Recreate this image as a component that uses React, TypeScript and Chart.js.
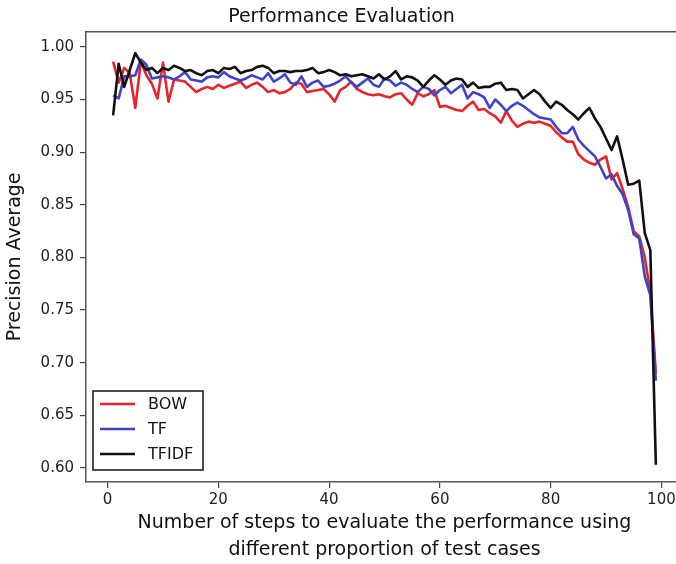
import React, { useEffect, useRef } from 'react';
import { Chart, registerables } from 'chart.js';

Chart.register(...registerables);

const steps = [
  1, 2, 3, 4, 5, 6, 7, 8, 9, 10, 11, 12, 13, 14, 15, 16, 17, 18, 19, 20,
  21, 22, 23, 24, 25, 26, 27, 28, 29, 30, 31, 32, 33, 34, 35, 36, 37, 38, 39, 40,
  41, 42, 43, 44, 45, 46, 47, 48, 49, 50, 51, 52, 53, 54, 55, 56, 57, 58, 59, 60,
  61, 62, 63, 64, 65, 66, 67, 68, 69, 70, 71, 72, 73, 74, 75, 76, 77, 78, 79, 80,
  81, 82, 83, 84, 85, 86, 87, 88, 89, 90, 91, 92, 93, 94, 95, 96, 97, 98, 99,
];

const bow = [
  0.986, 0.966, 0.980, 0.975, 0.942, 0.986, 0.973, 0.965, 0.951, 0.985,
  0.948, 0.969, 0.968, 0.967, 0.962, 0.957, 0.960, 0.962, 0.960, 0.964,
  0.961, 0.963, 0.965, 0.967, 0.961, 0.964, 0.966, 0.962, 0.957, 0.959,
  0.956, 0.957, 0.960, 0.966, 0.965, 0.957, 0.958, 0.959, 0.960, 0.955,
  0.948, 0.959, 0.962, 0.967, 0.960, 0.957, 0.955, 0.954, 0.955, 0.953,
  0.952, 0.955, 0.956, 0.950, 0.945, 0.956, 0.953, 0.955, 0.959, 0.943,
  0.944, 0.942, 0.940, 0.939, 0.944, 0.948, 0.940, 0.941, 0.937, 0.934,
  0.928, 0.939, 0.930, 0.924, 0.927, 0.929, 0.928, 0.929, 0.927, 0.925,
  0.919, 0.914, 0.910, 0.910, 0.898, 0.893, 0.890, 0.888, 0.893, 0.896,
  0.874, 0.880, 0.865, 0.848, 0.825, 0.820, 0.800, 0.767, 0.690,
];

const tf = [
  0.954, 0.951, 0.972, 0.972, 0.973, 0.988, 0.983, 0.970, 0.971, 0.972,
  0.971, 0.969, 0.972, 0.976, 0.969, 0.968, 0.967, 0.971, 0.972, 0.971,
  0.976, 0.972, 0.970, 0.968, 0.970, 0.973, 0.971, 0.969, 0.975, 0.967,
  0.970, 0.974, 0.966, 0.964, 0.972, 0.962, 0.966, 0.968, 0.962, 0.963,
  0.965, 0.968, 0.972, 0.966, 0.962, 0.966, 0.970, 0.964, 0.962, 0.970,
  0.968, 0.963, 0.966, 0.964, 0.960, 0.957, 0.962, 0.960, 0.954, 0.959,
  0.962, 0.956, 0.960, 0.964, 0.951, 0.957, 0.955, 0.952, 0.942, 0.950,
  0.945, 0.939, 0.944, 0.947, 0.944, 0.940, 0.936, 0.933, 0.932, 0.931,
  0.924, 0.918, 0.918, 0.924, 0.912, 0.906, 0.901, 0.896, 0.886, 0.875,
  0.879, 0.868, 0.860, 0.845, 0.822, 0.818, 0.782, 0.764, 0.683,
];

const tfidf = [
  0.935, 0.984, 0.962, 0.978, 0.994, 0.985, 0.978, 0.980, 0.975, 0.980,
  0.978, 0.982, 0.980, 0.977, 0.978, 0.975, 0.973, 0.977, 0.978, 0.975,
  0.980, 0.979, 0.981, 0.975, 0.977, 0.978, 0.981, 0.982, 0.980, 0.975,
  0.977, 0.977, 0.976, 0.977, 0.977, 0.978, 0.980, 0.975, 0.976, 0.978,
  0.976, 0.973, 0.974, 0.972, 0.973, 0.974, 0.972, 0.970, 0.974, 0.969,
  0.972, 0.977, 0.969, 0.972, 0.971, 0.968, 0.962, 0.968, 0.973, 0.969,
  0.964, 0.968, 0.970, 0.969, 0.962, 0.966, 0.961, 0.962, 0.962, 0.965,
  0.966, 0.959, 0.960, 0.959, 0.951, 0.955, 0.959, 0.955, 0.948, 0.942,
  0.948, 0.945, 0.940, 0.936, 0.931, 0.937, 0.942, 0.932, 0.924, 0.913,
  0.902, 0.915, 0.893, 0.869, 0.870, 0.873, 0.823, 0.807, 0.603,
];

const seriesLabels = ['BOW', 'TF', 'TFIDF'];
const seriesColors = ['#e5252a', '#3f44c6', '#111111'];
const xTickValues = [0, 20, 40, 60, 80, 100];
const yTickValues = [0.6, 0.65, 0.7, 0.75, 0.8, 0.85, 0.9, 0.95, 1.0];

const titleText = 'Performance Evaluation';
const xTitle = ['Number of steps to evaluate the performance using', 'different proportion of test cases'];
const yTitle = 'Precision Average';

const FONT = '"DejaVu Sans", sans-serif';

const framePlugin = {
  id: 'frameAndLegend',
  afterDatasetsDraw(chart: any) {
    const { ctx, chartArea: a } = chart;
    ctx.save();
    ctx.strokeStyle = '#555';
    ctx.lineWidth = 1.5;
    ctx.beginPath();
    ctx.moveTo(a.left, a.top);
    ctx.lineTo(a.right, a.top);
    ctx.lineTo(a.right, a.bottom);
    ctx.stroke();

    // legend box (lower left, inside plot)
    const bx = a.left + 7;
    const by = a.bottom - 91;
    const bw = 110;
    const bh = 79;
    ctx.fillStyle = '#ffffff';
    ctx.fillRect(bx, by, bw, bh);
    ctx.strokeStyle = '#111';
    ctx.lineWidth = 1.5;
    ctx.strokeRect(bx, by, bw, bh);
    ctx.font = `16px ${FONT}`;
    ctx.textBaseline = 'middle';
    ctx.textAlign = 'left';
    seriesLabels.forEach((lab, i) => {
      const y = by + 13 + i * 25;
      ctx.strokeStyle = seriesColors[i];
      ctx.lineWidth = 2.5;
      ctx.beginPath();
      ctx.moveTo(bx + 7, y);
      ctx.lineTo(bx + 42, y);
      ctx.stroke();
      ctx.fillStyle = '#111';
      ctx.fillText(lab, bx + 55, y + 1);
    });
    ctx.restore();
  },
};

export default function App() {
  const ref = useRef<HTMLCanvasElement | null>(null);

  useEffect(() => {
    if (!ref.current) return;
    const all = [bow, tf, tfidf];
    const datasets = all.map((vals, i) => ({
      label: seriesLabels[i],
      data: steps.map((s, j) => ({ x: s, y: vals[j] })),
      borderColor: seriesColors[i],
      backgroundColor: seriesColors[i],
      borderWidth: 2.6,
      pointRadius: 0,
      tension: 0,
      fill: false,
      borderJoinStyle: 'round' as const,
      order: 2 - i,
    }));
    const chart = new Chart(ref.current, {
      type: 'line',
      data: { datasets },
      plugins: [framePlugin],
      options: {
        animation: false,
        responsive: false,
        devicePixelRatio: 1,
        layout: { padding: { left: 0, right: 86, top: 0, bottom: 0 } },
        plugins: {
          legend: { display: false },
          tooltip: { enabled: false },
          title: {
            display: true,
            text: titleText,
            color: '#111',
            font: { family: FONT, size: 19, weight: 'normal', lineHeight: 1.2 },
            padding: { top: 6, bottom: 3 },
          },
        },
        scales: {
          x: {
            type: 'linear',
            min: -3.9,
            max: 103.9,
            afterBuildTicks: (s: any) => {
              s.ticks = xTickValues.map((v) => ({ value: v }));
            },
            afterFit: (s: any) => {
              s.height = 82;
            },
            grid: { drawOnChartArea: false, drawTicks: true, tickLength: 6, color: '#444', lineWidth: 1.2 },
            border: { display: true, color: '#555', width: 1.5 },
            ticks: {
              color: '#222',
              font: { family: FONT, size: 15 },
              padding: 3,
              maxRotation: 0,
              autoSkip: false,
              callback: (v: any) => String(v),
            },
            title: {
              display: true,
              text: xTitle,
              color: '#111',
              font: { family: FONT, size: 19, lineHeight: 1.45 },
              padding: { top: 0, bottom: 0 },
            },
          },
          y: {
            type: 'linear',
            min: 0.5867,
            max: 1.0143,
            afterBuildTicks: (s: any) => {
              s.ticks = yTickValues.map((v) => ({ value: v }));
            },
            afterFit: (s: any) => {
              s.width = 86;
            },
            grid: { drawOnChartArea: false, drawTicks: true, tickLength: 6, color: '#444', lineWidth: 1.2 },
            border: { display: true, color: '#555', width: 1.5 },
            ticks: {
              color: '#222',
              font: { family: FONT, size: 15 },
              padding: 6,
              autoSkip: false,
              callback: (v: any) => Number(v).toFixed(2),
            },
            title: {
              display: true,
              text: yTitle,
              color: '#111',
              font: { family: FONT, size: 19, lineHeight: 1.2 },
              padding: { top: 4, bottom: 0 },
            },
          },
        },
      },
    });
    return () => chart.destroy();
  }, []);

  return (
    <div
      style={{
        position: 'absolute',
        left: 0,
        top: 0,
        width: 676,
        height: 564,
        overflow: 'hidden',
        background: '#fff',
      }}
    >
      <canvas ref={ref} width={769} height={564} style={{ display: 'block' }} />
    </div>
  );
}
